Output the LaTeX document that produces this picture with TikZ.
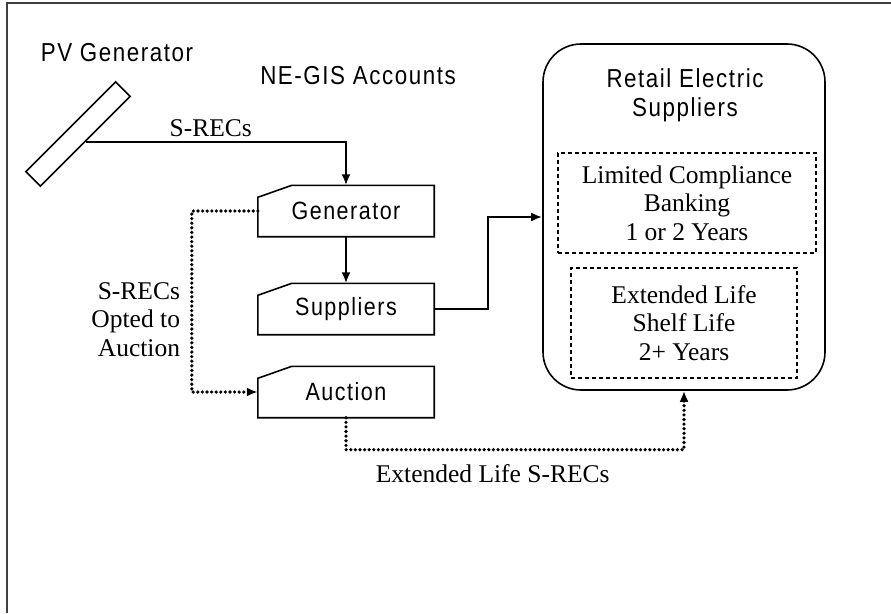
\documentclass[tikz,border=0pt]{standalone}
\usepackage{fontspec}
\setmainfont{Liberation Serif}
\setsansfont{Liberation Sans}[FakeStretch=0.86,LetterSpace=6]
\usetikzlibrary{arrows.meta}

\begin{document}
\begin{tikzpicture}[x=1pt,y=-1pt,>={Latex[length=11pt,width=9pt]},
    acct/.style={rectangle,minimum width=176pt,minimum height=51pt,inner sep=0pt,font=\sffamily\fontsize{25}{29}\selectfont},
    box line/.style={line width=1.6pt},
    flow/.style={->,line width=2.2pt},
    dot flow/.style={->,line width=3.6pt,line cap=round,dash pattern=on 0pt off 4.6pt},
    note/.style={font=\fontsize{25.5}{28.5}\selectfont,align=center,inner sep=0pt},
    head/.style={font=\sffamily\fontsize{26}{29}\selectfont,align=center,inner sep=0pt},
    shelf/.style={draw,line width=1.5pt,dash pattern=on 4pt off 3pt,note}]

  \useasboundingbox (0,0) rectangle (891,613);
  \draw[line width=2pt,black!75] (7,613) -- (7,3) -- (891,3);

  \node[head] (pvtxt) at (117,53) {PV Generator};
  \node[head] (negis) at (358,76) {NE-GIS Accounts};
  \node[draw,box line,rectangle,minimum width=127pt,minimum height=20.5pt,inner sep=0pt,rotate=45] (pv) at (78,134) {};

  \node[acct] (gen) at (346,211) {Generator};
  \node[acct] (sup) at (346,309) {Suppliers};
  \node[acct] (auc) at (346,392) {Auction};
  \foreach \n in {gen,sup,auc}
    \draw[box line] ([yshift=-12pt]\n.north west) -- ([xshift=34pt]\n.north west)
      -- (\n.north east) -- (\n.south east) -- (\n.south west) -- cycle;

  \node[draw,box line,rounded corners=38pt,minimum width=282pt,minimum height=346pt] (ret) at (684,217) {};
  \node[head] (rettl) at (685,95) {Retail Electric\\Suppliers};
  \node[shelf,minimum width=258pt,minimum height=100pt] (bank) at (687,203) {Limited Compliance\\Banking\\1 or 2 Years};
  \node[shelf,minimum width=226pt,minimum height=110pt] (ext) at (684,323) {Extended Life\\Shelf Life\\2+ Years};

  \draw[flow] (pv.south) -| node[note,pos=0.24,above=4pt] {S-RECs} (gen.north);
  \draw[flow] (gen) -- (sup);
  \draw[flow] (sup.east) -- ++(54,0) |- (ret.west);
  \draw[dot flow] (gen.west) -- ++(-66,0) |- node[note,align=right,pos=0.3,left=10pt] {S-RECs\\Opted to\\Auction} (auc.west);
  \draw[dot flow] (auc.south) -- ++(0,32) -| node[note,pos=0.217,below=13pt] {Extended Life S-RECs} (ret.south);
\end{tikzpicture}
\end{document}
